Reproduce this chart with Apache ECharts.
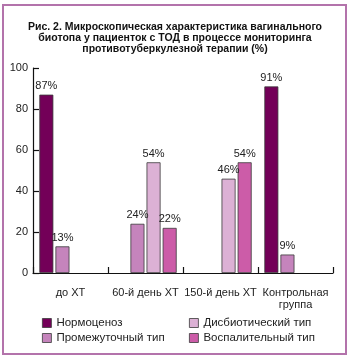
<!DOCTYPE html>
<html>
<head>
<meta charset="utf-8">
<script src="https://cdn.jsdelivr.net/npm/echarts@6/dist/echarts.min.js"></script>
<style>
  html, body { margin: 0; padding: 0; background: #fff; }
  #chart { width: 350px; height: 360px; }
</style>
</head>
<body>
<div id="chart"></div>
<script>
// Stages of observation
const categories = ['до ХТ', '60-й день ХТ', '150-й день ХТ', 'Контрольная\nгруппа'];

// Share of patients by biotope type, % (null = not observed)
const normocenosis = [87, null, null, 91];
const intermediate = [13, 24, null, 9];
const dysbiotic = [null, 54, 46, null];
const inflammatory = [null, 22, 54, null];

const yTicks = [0, 20, 40, 60, 80, 100];

const seriesNames = ['Нормоценоз', 'Промежуточный тип', 'Дисбиотический тип', 'Воспалительный тип'];
const seriesColors = ['#730058', '#c584bc', '#dcb1d5', '#cc5ca8'];
const seriesData = [normocenosis, intermediate, dysbiotic, inflammatory];

const fontFamily = 'Liberation Sans, Arial, sans-serif';

const chart = echarts.init(document.getElementById('chart'), null, { renderer: 'canvas' });

const series = seriesData.map((data, i) => ({
  name: seriesNames[i],
  type: 'bar',
  data: data,
  barWidth: 14,
  barGap: '15%',
  itemStyle: { color: seriesColors[i], borderColor: '#3a3a3a', borderWidth: 0.8 },
  label: {
    show: true,
    position: 'top',
    distance: 3,
    formatter: p => (p.value == null ? '' : p.value + '%'),
    color: '#222',
    fontSize: 11,
    fontFamily: fontFamily
  }
}));

const legendCommon = {
  orient: 'vertical',
  itemWidth: 9,
  itemHeight: 9,
  itemGap: 3,
  icon: 'rect',
  textStyle: { fontSize: 11.5, color: '#222', fontFamily: fontFamily },
  itemStyle: { borderColor: '#3a3a3a', borderWidth: 0.8 },
  selectedMode: false
};

chart.setOption({
  animation: false,
  backgroundColor: '#fff',
  title: {
    text: 'Рис. 2. Микроскопическая характеристика вагинального\nбиотопа у пациенток с ТОД в процессе мониторинга\nпротивотуберкулезной терапии (%)',
    left: 'center',
    top: 17,
    textStyle: {
      fontSize: 10.5,
      fontWeight: 'bold',
      lineHeight: 11,
      color: '#111',
      fontFamily: fontFamily,
      align: 'center'
    }
  },
  graphic: [{
    type: 'rect',
    shape: { x: 3, y: 5, width: 343, height: 349 },
    style: { fill: 'none', stroke: '#b373ab', lineWidth: 2 },
    silent: true
  }],
  legend: [
    Object.assign({}, legendCommon, { data: [seriesNames[0], seriesNames[1]], left: 37, top: 312 }),
    Object.assign({}, legendCommon, { data: [seriesNames[2], seriesNames[3]], left: 184, top: 312 })
  ],
  grid: { left: 33, right: 17, top: 68, bottom: 87, containLabel: false },
  xAxis: {
    type: 'category',
    data: categories,
    axisLine: { lineStyle: { color: '#111', width: 1.2 } },
    axisTick: { show: true, inside: true, length: 6, lineStyle: { color: '#111', width: 1.2 } },
    axisLabel: {
      color: '#222',
      fontSize: 11,
      fontFamily: fontFamily,
      margin: 14,
      lineHeight: 12,
      interval: 0
    }
  },
  yAxis: {
    type: 'value',
    min: yTicks[0],
    max: yTicks[yTicks.length - 1],
    interval: yTicks[1] - yTicks[0],
    axisLine: { show: true, lineStyle: { color: '#111', width: 1.2 } },
    axisTick: { show: true, inside: true, length: 6, lineStyle: { color: '#111', width: 1.2 } },
    splitLine: { show: false },
    axisLabel: { color: '#222', fontSize: 11, fontFamily: fontFamily, margin: 5 }
  },
  series: series
});
</script>
</body>
</html>
